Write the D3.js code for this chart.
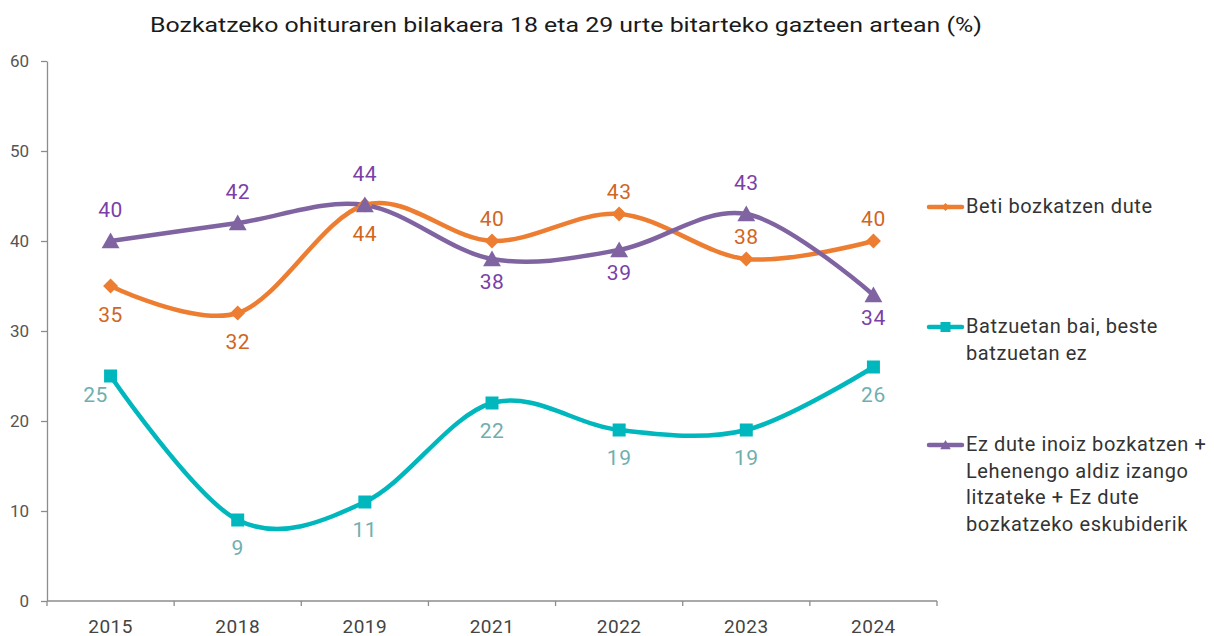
<!DOCTYPE html>
<html>
<head>
<meta charset="utf-8">
<script src="https://cdn.jsdelivr.net/npm/d3@7"></script>
<style>
  html, body { margin: 0; padding: 0; background: #fff; }
  svg { display: block; font-family: Roboto, "Noto Sans", sans-serif; }
</style>
</head>
<body>
<svg id="chart" width="1214" height="636"></svg>
<script>
// Survey years
const years = ["2015", "2018", "2019", "2021", "2022", "2023", "2024"];

// Share of young people (18-29) by voting habit, %
const betiBozkatzen = [35, 32, 44, 40, 43, 38, 40];
const batzuetan = [25, 9, 11, 22, 19, 19, 26];
const ezDuteInoiz = [40, 42, 44, 38, 39, 43, 34];

// Y axis ticks
const yTicks = [0, 10, 20, 30, 40, 50, 60];

const title = "Bozkatzeko ohituraren bilakaera 18 eta 29 urte bitarteko gazteen artean (%)";

const series = [
  {
    name: ["Beti bozkatzen dute"],
    values: betiBozkatzen,
    color: "#ED7D31",
    labelColor: "#D0661F",
    marker: "diamond",
    // where each value label sits relative to its point
    place: ["below", "below", "below", "above", "above", "above", "above"],
    legendY: 206
  },
  {
    name: ["Batzuetan bai, beste", "batzuetan ez"],
    values: batzuetan,
    color: "#00B7BD",
    labelColor: "#6FAFAF",
    marker: "square",
    place: ["belowLeft", "below", "below", "below", "below", "below", "below"],
    legendY: 326
  },
  {
    name: ["Ez dute inoiz bozkatzen +", "Lehenengo aldiz izango", "litzateke + Ez dute", "bozkatzeko eskubiderik"],
    values: ezDuteInoiz,
    color: "#8064A2",
    labelColor: "#7A3FA8",
    marker: "triangle",
    place: ["above", "above", "above", "below", "below", "above", "below"],
    legendY: 444
  }
];

const svg = d3.select("#chart");
const plot = { left: 47, right: 937, top: 61, bottom: 601 };

const x = d3.scaleBand().domain(years).range([plot.left, plot.right]).padding(0);
const y = d3.scaleLinear().domain([0, 60]).range([plot.bottom, plot.top]);
const cx = d => x(d) + x.bandwidth() / 2;

// Title
svg.append("text")
  .attr("x", 566).attr("y", 25)
  .attr("text-anchor", "middle")
  .attr("dominant-baseline", "central")
  .attr("font-size", 21)
  .attr("fill", "#1a1a1a")
  .attr("textLength", 832)
  .attr("lengthAdjust", "spacingAndGlyphs")
  .text(title);

// Y axis
const yAxis = svg.append("g")
  .attr("transform", `translate(${plot.left},0)`)
  .call(d3.axisLeft(y).tickValues(yTicks).tickSize(6).tickSizeOuter(0).tickPadding(12));
yAxis.select(".domain").attr("stroke", "#8c8c8c").attr("stroke-width", 1.3);
yAxis.selectAll(".tick line").attr("stroke", "#8c8c8c").attr("stroke-width", 1.3);
yAxis.selectAll(".tick text")
  .attr("font-size", 17).attr("fill", "#555").attr("font-family", "Roboto, sans-serif");

// X axis with ticks on category boundaries
const xAxis = svg.append("g").attr("transform", `translate(0,${plot.bottom})`);
xAxis.append("line")
  .attr("x1", plot.left).attr("x2", plot.right)
  .attr("stroke", "#8c8c8c").attr("stroke-width", 1.3);
const bounds = years.map(d => x(d)).concat([plot.right]);
xAxis.selectAll("line.b").data(bounds).join("line")
  .attr("class", "b")
  .attr("x1", d => d).attr("x2", d => d)
  .attr("y1", 0).attr("y2", 5)
  .attr("stroke", "#8c8c8c").attr("stroke-width", 1.3);
xAxis.selectAll("text").data(years).join("text")
  .attr("x", d => cx(d)).attr("y", 25)
  .attr("text-anchor", "middle")
  .attr("dominant-baseline", "central")
  .attr("font-size", 19).attr("fill", "#444")
  .attr("letter-spacing", 0.5)
  .text(d => d);

const line = d3.line()
  .x((d, i) => cx(years[i]))
  .y(d => y(d))
  .curve(d3.curveCatmullRom.alpha(0));

function drawMarker(g, type, px, py, s, color) {
  if (type === "diamond") {
    g.append("path")
      .attr("d", `M${px},${py - s}L${px + s},${py}L${px},${py + s}L${px - s},${py}Z`)
      .attr("fill", color);
  } else if (type === "square") {
    g.append("rect")
      .attr("x", px - s).attr("y", py - s)
      .attr("width", 2 * s).attr("height", 2 * s)
      .attr("fill", color);
  } else {
    g.append("path")
      .attr("d", `M${px},${py - s}L${px + s * 1.05},${py + s * 0.85}L${px - s * 1.05},${py + s * 0.85}Z`)
      .attr("fill", color);
  }
}

const markerSize = { diamond: 7.5, square: 6.5, triangle: 8.5 };
const offsets = {
  diamond: { above: -22, below: 29 },
  square: { above: -24, below: 28, belowLeft: 19 },
  triangle: { above: -31, below: 23 }
};

// Lines
series.forEach(s => {
  svg.append("path")
    .datum(s.values)
    .attr("d", line)
    .attr("fill", "none")
    .attr("stroke", s.color)
    .attr("stroke-width", 4.5)
    .attr("stroke-linecap", "round");
});

// Markers and value labels
series.forEach(s => {
  const g = svg.append("g");
  s.values.forEach((v, i) => {
    const px = cx(years[i]), py = y(v);
    drawMarker(g, s.marker, px, py, markerSize[s.marker], s.color);
    const pos = s.place[i];
    const dy = offsets[s.marker][pos];
    const dx = pos === "belowLeft" ? -15 : 0;
    g.append("text")
      .attr("x", px + dx).attr("y", py + dy)
      .attr("text-anchor", "middle")
      .attr("dominant-baseline", "central")
      .attr("font-size", 21)
      .attr("letter-spacing", 0.5)
      .attr("fill", s.labelColor)
      .text(v);
  });
});

// Legend
const legend = svg.append("g");
series.forEach(s => {
  const ly = s.legendY + 1;
  legend.append("line")
    .attr("x1", 929).attr("x2", 962)
    .attr("y1", ly).attr("y2", ly)
    .attr("stroke", s.color).attr("stroke-width", 4.5)
    .attr("stroke-linecap", "round");
  drawMarker(legend, s.marker, 945.5, ly, s.marker === "diamond" ? 4 : 5, s.color);
  s.name.forEach((t, k) => {
    legend.append("text")
      .attr("x", 966).attr("y", s.legendY + k * 26.6)
      .attr("dominant-baseline", "central")
      .attr("font-size", 20)
      .attr("letter-spacing", 0.6)
      .attr("fill", "#333")
      .text(t);
  });
});
</script>
</body>
</html>
